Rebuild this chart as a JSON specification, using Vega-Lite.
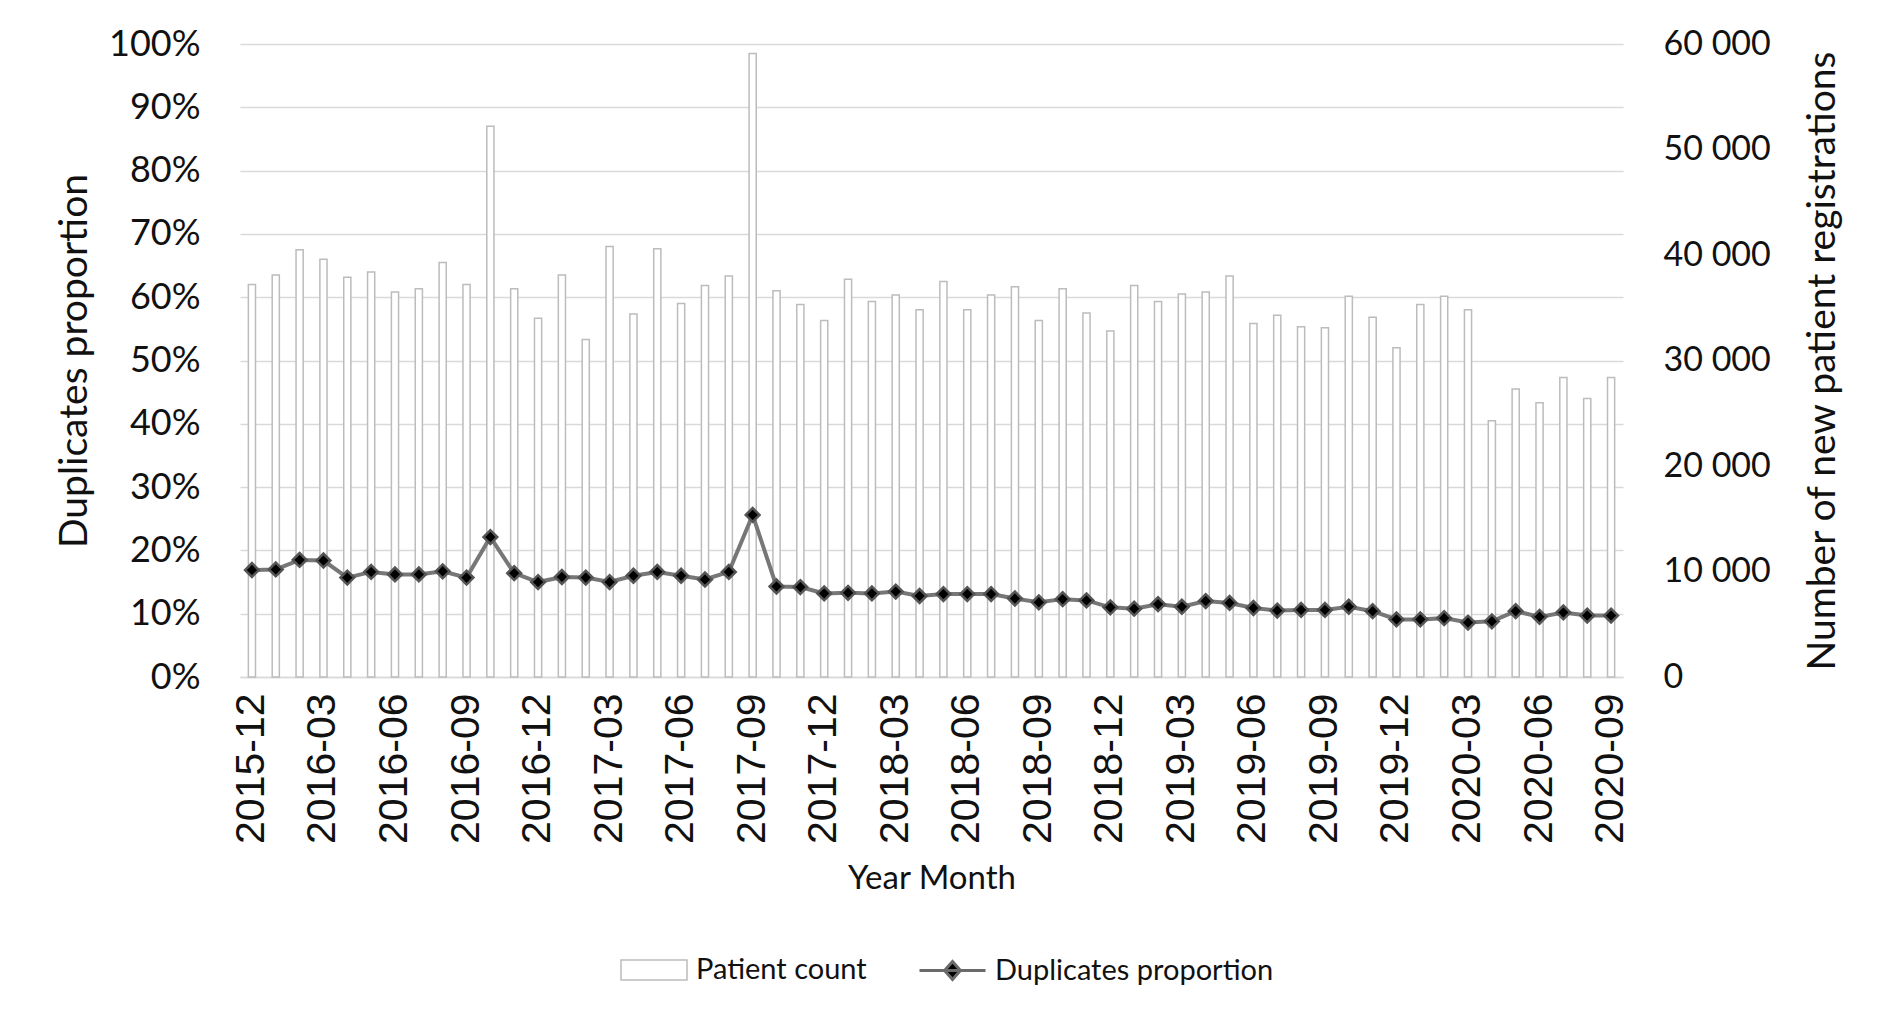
{
  "$schema": "https://vega.github.io/schema/vega-lite/v6.json",
  "autosize": {"type": "none"},
  "width": 1383,
  "height": 633,
  "padding": {"left": 240, "top": 44, "right": 263, "bottom": 345},
  "background": "white",
  "config": {
    "view": {"stroke": null},
    "font": "Lato",
    "axis": {"labelColor": "#111", "titleColor": "#111", "titleFontWeight": "normal", "labelFont": "Lato", "titleFont": "Lato"},
    "legend": {"labelFont": "Lato", "labelFontSize": 29, "labelColor": "#111", "labelLimit": 500, "padding": 0, "labelOffset": 8}
  },
  "data": {
    "values": [
      {"month": "2015-12", "count": 37200, "prop": 0.169},
      {"month": "2016-01", "count": 38100, "prop": 0.170},
      {"month": "2016-02", "count": 40500, "prop": 0.185},
      {"month": "2016-03", "count": 39600, "prop": 0.184},
      {"month": "2016-04", "count": 37900, "prop": 0.157},
      {"month": "2016-05", "count": 38400, "prop": 0.166},
      {"month": "2016-06", "count": 36500, "prop": 0.162},
      {"month": "2016-07", "count": 36800, "prop": 0.162},
      {"month": "2016-08", "count": 39300, "prop": 0.167},
      {"month": "2016-09", "count": 37200, "prop": 0.157},
      {"month": "2016-10", "count": 52200, "prop": 0.221},
      {"month": "2016-11", "count": 36800, "prop": 0.164},
      {"month": "2016-12", "count": 34000, "prop": 0.150},
      {"month": "2017-01", "count": 38100, "prop": 0.158},
      {"month": "2017-02", "count": 32000, "prop": 0.157},
      {"month": "2017-03", "count": 40800, "prop": 0.150},
      {"month": "2017-04", "count": 34400, "prop": 0.160},
      {"month": "2017-05", "count": 40600, "prop": 0.166},
      {"month": "2017-06", "count": 35400, "prop": 0.160},
      {"month": "2017-07", "count": 37100, "prop": 0.154},
      {"month": "2017-08", "count": 38000, "prop": 0.166},
      {"month": "2017-09", "count": 59100, "prop": 0.256},
      {"month": "2017-10", "count": 36600, "prop": 0.143},
      {"month": "2017-11", "count": 35300, "prop": 0.142},
      {"month": "2017-12", "count": 33800, "prop": 0.132},
      {"month": "2018-01", "count": 37700, "prop": 0.133},
      {"month": "2018-02", "count": 35600, "prop": 0.132},
      {"month": "2018-03", "count": 36200, "prop": 0.135},
      {"month": "2018-04", "count": 34800, "prop": 0.128},
      {"month": "2018-05", "count": 37500, "prop": 0.131},
      {"month": "2018-06", "count": 34800, "prop": 0.131},
      {"month": "2018-07", "count": 36200, "prop": 0.131},
      {"month": "2018-08", "count": 37000, "prop": 0.124},
      {"month": "2018-09", "count": 33800, "prop": 0.118},
      {"month": "2018-10", "count": 36800, "prop": 0.123},
      {"month": "2018-11", "count": 34500, "prop": 0.121},
      {"month": "2018-12", "count": 32800, "prop": 0.110},
      {"month": "2019-01", "count": 37100, "prop": 0.108},
      {"month": "2019-02", "count": 35600, "prop": 0.115},
      {"month": "2019-03", "count": 36300, "prop": 0.111},
      {"month": "2019-04", "count": 36500, "prop": 0.120},
      {"month": "2019-05", "count": 38000, "prop": 0.117},
      {"month": "2019-06", "count": 33500, "prop": 0.109},
      {"month": "2019-07", "count": 34300, "prop": 0.105},
      {"month": "2019-08", "count": 33200, "prop": 0.106},
      {"month": "2019-09", "count": 33100, "prop": 0.106},
      {"month": "2019-10", "count": 36100, "prop": 0.111},
      {"month": "2019-11", "count": 34100, "prop": 0.104},
      {"month": "2019-12", "count": 31200, "prop": 0.091},
      {"month": "2020-01", "count": 35300, "prop": 0.091},
      {"month": "2020-02", "count": 36100, "prop": 0.093},
      {"month": "2020-03", "count": 34800, "prop": 0.086},
      {"month": "2020-04", "count": 24300, "prop": 0.088},
      {"month": "2020-05", "count": 27300, "prop": 0.104},
      {"month": "2020-06", "count": 26000, "prop": 0.095},
      {"month": "2020-07", "count": 28400, "prop": 0.102},
      {"month": "2020-08", "count": 26400, "prop": 0.097},
      {"month": "2020-09", "count": 28400, "prop": 0.097}
    ]
  },
  "encoding": {
    "x": {
      "field": "month", "type": "ordinal", "sort": null,
      "scale": {"paddingInner": 0.7, "paddingOuter": 0.35},
      "axis": {
        "title": "Year Month", "titleFontSize": 33, "titlePadding": 19,
        "labelAngle": -90, "labelFont": "Liberation Sans", "labelFontSize": 41, "labelPadding": 16,
        "ticks": false, "domainColor": "#d9d9d9", "domainWidth": 1.5,
        "values": ["2015-12","2016-03","2016-06","2016-09","2016-12","2017-03","2017-06","2017-09","2017-12","2018-03","2018-06","2018-09","2018-12","2019-03","2019-06","2019-09","2019-12","2020-03","2020-06","2020-09"]
      }
    }
  },
  "layer": [
    {
      "mark": {"type": "bar", "stroke": "#bcbcbc", "strokeWidth": 1.5},
      "encoding": {
        "y": {
          "field": "count", "type": "quantitative",
          "scale": {"domain": [0, 60000], "nice": false},
          "axis": {
            "orient": "right", "title": "Number of new patient registrations",
            "titleFontSize": 39, "titleAngle": -90, "titlePadding": 72,
            "labelFontSize": 34, "labelPadding": 40,
            "values": [0, 10000, 20000, 30000, 40000, 50000, 60000],
            "labelExpr": "replace(format(datum.value, ','), ',', ' ')",
            "grid": false, "ticks": false, "domain": false
          }
        },
        "color": {
          "datum": "Patient count",
          "scale": {"domain": ["Patient count"], "range": ["white"]},
          "legend": {
            "title": null, "orient": "none",
            "legendX": 380, "legendY": 892,
            "symbolSize": 4356, "symbolType": "M-1,-0.3H1V0.3H-1Z",
            "symbolStrokeColor": "#bcbcbc", "symbolStrokeWidth": 1.5, "symbolFillColor": "white"
          }
        }
      }
    },
    {
      "encoding": {
        "y": {
          "field": "prop", "type": "quantitative",
          "scale": {"domain": [0, 1], "nice": false},
          "axis": {
            "orient": "left", "title": "Duplicates proportion", "format": ".0%",
            "titleFontSize": 39, "titlePadding": 14,
            "labelFontSize": 36, "labelPadding": 40,
            "values": [0, 0.1, 0.2, 0.3, 0.4, 0.5, 0.6, 0.7, 0.8, 0.9, 1],
            "grid": true, "gridColor": "#d9d9d9", "gridWidth": 1.5,
            "ticks": false, "domain": false
          }
        }
      },
      "layer": [
        {"mark": {"type": "line", "stroke": "#777777", "strokeWidth": 4}},
        {
          "mark": {"type": "point", "shape": "diamond", "filled": true, "size": 190, "stroke": "#555555", "strokeWidth": 2.5, "opacity": 1},
          "encoding": {
            "fill": {
              "datum": "Duplicates proportion",
              "scale": {"domain": ["Duplicates proportion"], "range": ["black"]},
              "legend": {
                "title": null, "orient": "none",
                "legendX": 678, "legendY": 892,
                "symbolSize": 4356, "symbolType": "M-1,0H1M0,-0.27L0.24,0L0,0.27L-0.24,0Z",
                "symbolStrokeColor": "#6a6a6a", "symbolStrokeWidth": 3, "symbolFillColor": "black"
              }
            }
          }
        }
      ]
    }
  ],
  "resolve": {"scale": {"y": "independent"}}
}
